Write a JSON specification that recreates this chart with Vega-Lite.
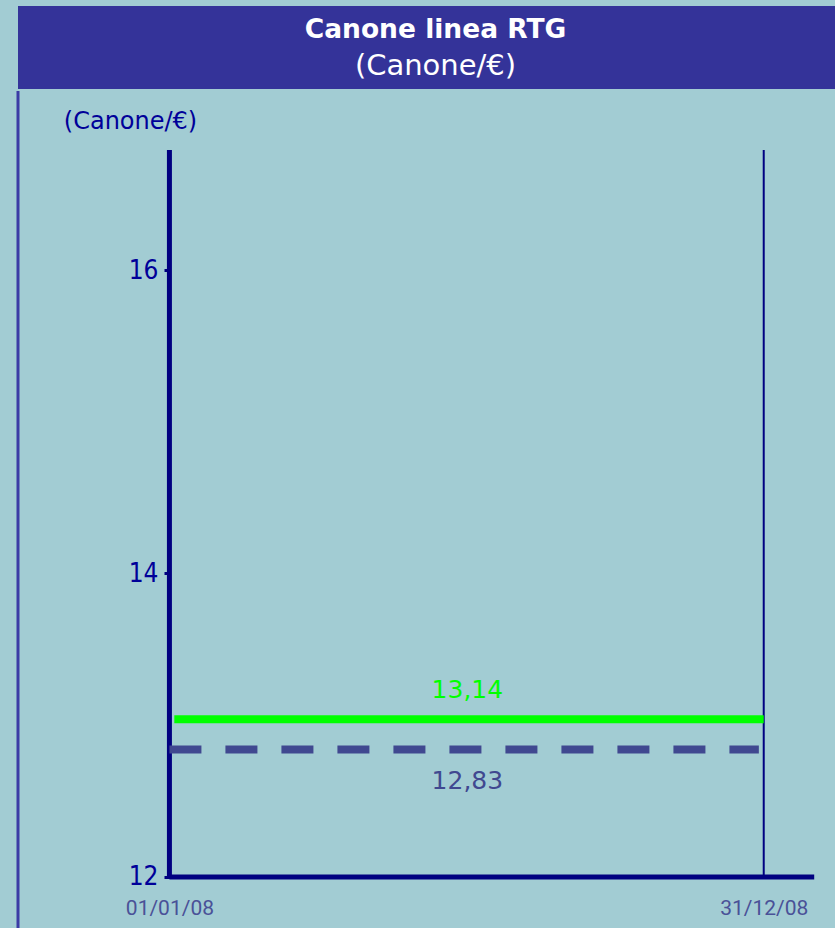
{
  "$schema": "https://vega.github.io/schema/vega-lite/v6.json",
  "background": "#A2CCD3",
  "padding": {"left": 16, "top": 6, "right": 0, "bottom": 0},
  "spacing": 0,
  "config": {"view": {"stroke": null}},
  "vconcat": [
    {
      "width": 819,
      "height": 83,
      "view": {"fill": "#343399", "stroke": null},
      "layer": [
        {
          "data": {"values": [{"t": "Canone linea RTG"}]},
          "mark": {"type": "text", "font": "DejaVu Sans", "fontSize": 26.5, "fontWeight": "bold", "color": "#FFFFFF", "baseline": "alphabetic", "align": "center", "dx": 8, "dy": -9.5},
          "encoding": {"text": {"field": "t"}}
        },
        {
          "data": {"values": [{"t": "(Canone/€)"}]},
          "mark": {"type": "text", "font": "DejaVu Sans", "fontSize": 29, "fontWeight": "normal", "color": "#FFFFFF", "baseline": "alphabetic", "align": "center", "dx": 8, "dy": 27.5},
          "encoding": {"text": {"field": "t"}}
        }
      ]
    },
    {
      "width": 819,
      "height": 838,
      "view": {"stroke": "#3B3BA5", "strokeWidth": 3, "strokeDash": [0, 2476, 838], "fill": null},
      "layer": [
        {
          "data": {"values": [
            {"x": "2008-01-01", "x2": "2009-01-31", "y": 12, "y2": 12},
            {"x": "2008-01-01", "x2": "2008-01-01", "y": 12, "y2": 16.79}
          ]},
          "mark": {"type": "rule", "color": "#000080", "strokeWidth": 5},
          "encoding": {
            "x": {
              "field": "x", "type": "temporal",
              "scale": {"type": "utc", "domain": [{"year": 2007, "month": 9, "date": 30, "utc": true}, {"year": 2009, "month": 2, "date": 14, "utc": true}], "nice": false},
              "axis": {
                "orient": "bottom", "offset": -52, "domain": false, "ticks": false, "tickSize": 0, "grid": false,
                "values": [{"year": 2008, "month": 1, "date": 1, "utc": true}, {"year": 2008, "month": 12, "date": 31, "utc": true}],
                "format": "%d/%m/%y", "labelFlush": false, "labelPadding": 20,
                "labelFont": "Roboto", "labelFontSize": 21, "labelColor": "#4A5198", "title": null
              }
            },
            "x2": {"field": "x2"},
            "y": {
              "field": "y", "type": "quantitative",
              "scale": {"domain": [11.6573, 17.1796], "nice": false, "zero": false},
              "axis": {
                "orient": "left", "offset": -152, "domain": false, "grid": false,
                "values": [12, 14, 16], "format": "d", "ticks": true, "tickSize": 6, "tickWidth": 3, "tickColor": "#000080",
                "labelFont": "Liberation Sans Narrow, DejaVu Sans Condensed", "labelFontSize": 26, "labelColor": "#000099", "labelPadding": 6,
                "title": "(Canone/€)", "titleAngle": 0, "titleX": -40, "titleY": 30, "titleAlign": "center", "titleBaseline": "middle",
                "titleFont": "DejaVu Sans", "titleFontSize": 24, "titleFontWeight": "normal", "titleColor": "#000099"
              }
            },
            "y2": {"field": "y2"}
          }
        },
        {
          "data": {"values": [
            {"x": "2008-12-31", "x2": "2008-12-31", "y": 12, "y2": 16.79}
          ]},
          "mark": {"type": "rule", "color": "#000080", "strokeWidth": 2},
          "encoding": {
            "x": {"field": "x", "type": "temporal"},
            "x2": {"field": "x2"},
            "y": {"field": "y", "type": "quantitative"},
            "y2": {"field": "y2"}
          }
        },
        {
          "data": {"values": [
            {"x": "2008-01-04", "x2": "2008-12-31", "y": 13.04}
          ]},
          "mark": {"type": "rule", "color": "#00FF00", "strokeWidth": 8},
          "encoding": {
            "x": {"field": "x", "type": "temporal"},
            "x2": {"field": "x2"},
            "y": {"field": "y", "type": "quantitative"}
          }
        },
        {
          "data": {"values": [
            {"x": "2008-01-01", "x2": "2008-12-28", "y": 12.84}
          ]},
          "mark": {"type": "rule", "color": "#404890", "strokeWidth": 8, "strokeDash": [32, 24]},
          "encoding": {
            "x": {"field": "x", "type": "temporal"},
            "x2": {"field": "x2"},
            "y": {"field": "y", "type": "quantitative"}
          }
        },
        {
          "data": {"values": [
            {"x": "2008-07-02", "y": 13.04, "label": "13,14"}
          ]},
          "mark": {"type": "text", "color": "#00FF00", "font": "DejaVu Sans", "fontSize": 25, "baseline": "middle", "align": "center", "dy": -29},
          "encoding": {
            "x": {"field": "x", "type": "temporal"},
            "y": {"field": "y", "type": "quantitative"},
            "text": {"field": "label"}
          }
        },
        {
          "data": {"values": [
            {"x": "2008-07-02", "y": 12.84, "label": "12,83"}
          ]},
          "mark": {"type": "text", "color": "#404890", "font": "DejaVu Sans", "fontSize": 25, "baseline": "middle", "align": "center", "dy": 31},
          "encoding": {
            "x": {"field": "x", "type": "temporal"},
            "y": {"field": "y", "type": "quantitative"},
            "text": {"field": "label"}
          }
        }
      ]
    }
  ]
}
